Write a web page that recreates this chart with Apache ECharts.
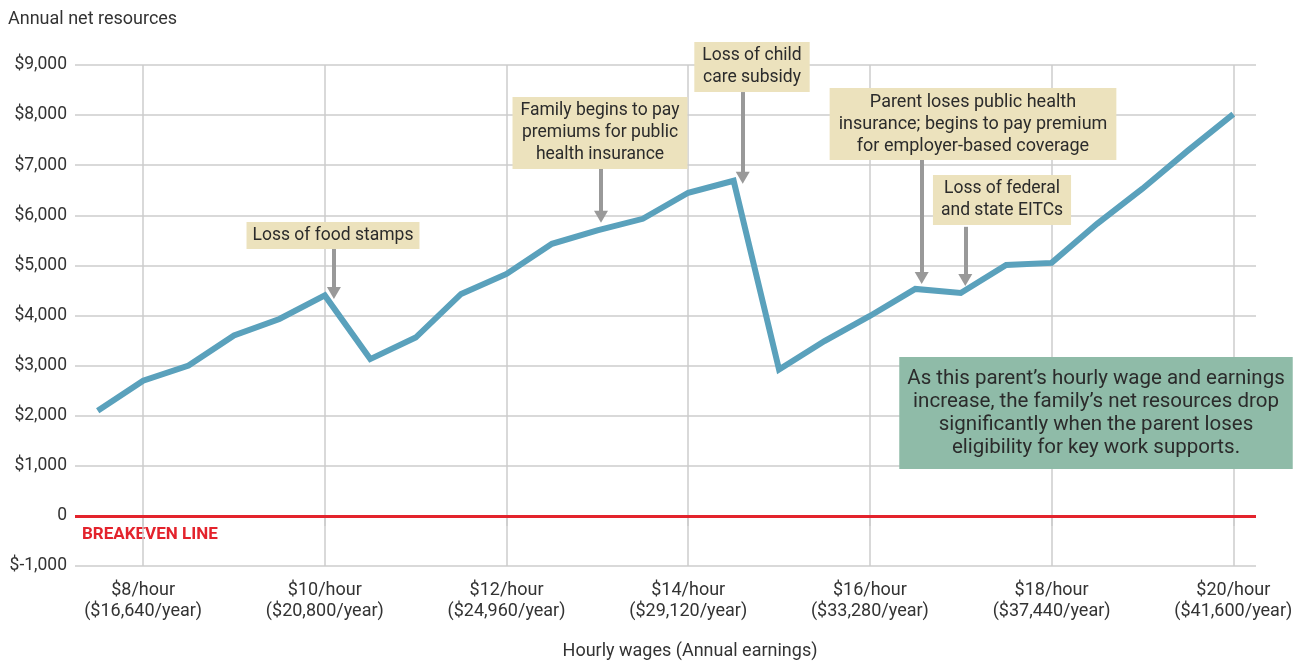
<!DOCTYPE html>
<html>
<head>
<meta charset="utf-8">
<script src="https://cdn.jsdelivr.net/npm/echarts@6/dist/echarts.min.js"></script>
<style>
  html, body { margin: 0; padding: 0; background: #fff; }
  #chart { width: 1305px; height: 663px; }
</style>
</head>
<body>
<div id="chart"></div>
<script>
// hourly wage steps and net resources
var wages = [7.5, 8, 8.5, 9, 9.5, 10, 10.5, 11, 11.5, 12, 12.5, 13, 13.5, 14, 14.5, 15, 15.5, 16, 16.5, 17, 17.5, 18, 18.5, 19, 19.5, 20];
var netResources = [2100, 2700, 3000, 3600, 3930, 4400, 3130, 3560, 4430, 4830, 5430, 5700, 5930, 6450, 6690, 2920, 3490, 3990, 4530, 4450, 5010, 5050, 5830, 6530, 7290, 8020];
var wageTicks = [8, 10, 12, 14, 16, 18, 20];
var annualEarnings = { 8: '16,640', 10: '20,800', 12: '24,960', 14: '29,120', 16: '33,280', 18: '37,440', 20: '41,600' };

// arrows: [wage, top value, tip value]
var arrows = [
  [10.1, 5330, 4450],
  [13.04, 6950, 5970],
  [14.6, 8460, 6750],
  [16.57, 7105, 4750],
  [17.05, 5770, 4710]
];

var FONT = 'Roboto, "Liberation Sans", sans-serif';
var myChart = echarts.init(document.getElementById('chart'));

function note(text, x, y, size, lh, bg, pad) {
  return {
    type: 'text',
    x: x,
    y: y,
    z: 100,
    style: {
      text: text,
      fontFamily: FONT,
      fontSize: size,
      lineHeight: lh,
      fill: '#2b2b2b',
      align: 'center',
      verticalAlign: 'top',
      backgroundColor: bg,
      padding: pad
    }
  };
}

var option = {
  animation: false,
  grid: { left: 75, right: 49, top: 65, bottom: 97, containLabel: false, outerBoundsMode: 'none' },
  xAxis: {
    type: 'value',
    min: 7.25,
    max: 20.25,
    axisLine: { show: false },
    axisTick: { show: true, length: 10, customValues: wageTicks, lineStyle: { color: '#cccccc', width: 1.5 } },
    axisLabel: {
      customValues: wageTicks,
      margin: 14,
      fontFamily: FONT,
      fontSize: 18,
      lineHeight: 21,
      color: '#333',
      formatter: function (v) {
        return '$' + v + '/hour\n($' + annualEarnings[v] + '/year)';
      }
    },
    splitLine: { show: true, lineStyle: { color: '#cccccc', width: 1.5 } }
  },
  yAxis: {
    type: 'value',
    min: -1000,
    max: 9000,
    interval: 1000,
    axisLine: { show: false },
    axisTick: { show: false },
    axisLabel: {
      margin: 8,
      fontFamily: FONT,
      fontSize: 17.5,
      color: '#333',
      formatter: function (v) {
        if (v === 0) return '0';
        if (v < 0) return '$-' + Math.abs(v).toLocaleString('en-US');
        return '$' + v.toLocaleString('en-US');
      }
    },
    splitLine: { show: true, lineStyle: { color: '#cccccc', width: 1.5 } }
  },
  series: [
    {
      type: 'line',
      data: wages.map(function (w, i) { return [w, netResources[i]]; }),
      symbol: 'none',
      lineStyle: { color: '#5aa1bc', width: 6, join: 'miter' },
      z: 5,
      markLine: {
        silent: true,
        symbol: ['none', 'none'],
        label: { show: false },
        lineStyle: { color: '#e3232c', width: 3, type: 'solid' },
        data: [{ yAxis: 0 }]
      }
    },
    {
      type: 'line',
      data: [],
      markLine: {
        silent: true,
        symbol: ['none', 'triangle'],
        symbolSize: [14, 12],
        label: { show: false },
        lineStyle: { color: '#999999', width: 4, type: 'solid' },
        data: arrows.map(function (a) {
          return [{ coord: [a[0], a[1]] }, { coord: [a[0], a[2]] }];
        })
      }
    }
  ],
  graphic: [
    {
      type: 'text', left: 8, top: 10,
      style: { text: 'Annual net resources', fontFamily: FONT, fontSize: 18, fill: '#333' }
    },
    {
      type: 'text', x: 690, y: 651,
      style: { text: 'Hourly wages (Annual earnings)', fontFamily: FONT, fontSize: 18, fill: '#333', align: 'center', verticalAlign: 'middle' }
    },
    {
      type: 'text', left: 82, top: 526,
      style: { text: 'BREAKEVEN LINE', fontFamily: FONT, fontSize: 17, fontWeight: 'bold', fill: '#e3232c' }
    },
    note('Loss of food stamps', 333, 222, 17.5, 22, '#ece2bd', [3, 6, 2, 6]),
    note('Family begins to pay\npremiums for public\nhealth insurance', 600, 97, 17.5, 22, '#ece2bd', [3, 8, 3, 8]),
    note('Loss of child\ncare subsidy', 752, 42, 17.5, 22, '#ece2bd', [3, 8, 3, 8]),
    note('Parent loses public health\ninsurance; begins to pay premium\nfor employer-based coverage', 973, 88, 18, 22, '#ece2bd', [3, 9, 3, 9]),
    note('Loss of federal\nand state EITCs', 1002, 175, 17.5, 22, '#ece2bd', [3, 8, 3, 8]),
    note('As this parent\u2019s hourly wage and earnings\nincrease, the family\u2019s net resources drop\nsignificantly when the parent loses\neligibility for key work supports.', 1096, 357, 20.5, 23, '#8fbba8', [10, 8, 10, 8])
  ]
};

myChart.setOption(option);
</script>
</body>
</html>
